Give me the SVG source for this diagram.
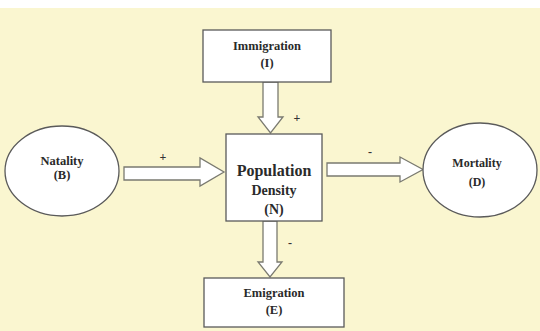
<svg xmlns="http://www.w3.org/2000/svg" width="540" height="331" viewBox="0 0 540 331">
<style>
.bg{fill:#FAF6D0}
.box{fill:#FFFFFF;stroke:#5a5a5a;stroke-width:1.3}
.arr{fill:#FFFFFF;stroke:#7a7a70;stroke-width:1.3;stroke-linejoin:miter}
.t{font-weight:bold;fill:#2a2a2a;text-anchor:middle}
.s{font-weight:bold;fill:#333;text-anchor:middle;font-size:12px}
</style>
<rect x="0" y="0" width="540" height="331" fill="#FFFFFF"/>
<rect class="bg" x="0" y="8" width="540" height="323"/>
<g id="connectors" font-family="'Liberation Serif', 'DejaVu Serif', serif">
<polygon class="arr" points="263,82 278,82 278,117 283,117 270.5,133 258,117 263,117"/>
<polygon class="arr" points="124,167 200,167 200,158 224,172 200,186 200,180 124,180"/>
<polygon class="arr" points="327,163 400,163 400,157 423,169.5 400,182 400,176 327,176"/>
<polygon class="arr" points="263,221 277,221 277,262 282,262 270,277 258,262 263,262"/>
<text class="s" x="297" y="122">+</text>
<text class="s" x="163" y="161">+</text>
<text class="s" x="370" y="156">-</text>
<text class="s" x="290" y="247">-</text>
</g>
<g id="immigration" font-family="'Liberation Serif', 'DejaVu Serif', serif">
<rect class="box" x="203" y="30" width="128" height="52"/>
<text class="t" x="267" y="50" font-size="12.5">Immigration</text>
<text class="t" x="267" y="67" font-size="12.5">(I)</text>
</g>
<g id="natality" font-family="'Liberation Serif', 'DejaVu Serif', serif">
<ellipse class="box" cx="62" cy="171" rx="57" ry="45"/>
<text class="t" x="62" y="165" font-size="12.5">Natality</text>
<text class="t" x="62" y="179" font-size="12.5">(B)</text>
</g>
<g id="population" font-family="'Liberation Serif', 'DejaVu Serif', serif">
<rect class="box" x="226" y="134" width="96" height="87"/>
<text class="t" x="274" y="176" font-size="16">Population</text>
<text class="t" x="274" y="195" font-size="14">Density</text>
<text class="t" x="274" y="214" font-size="14">(N)</text>
</g>
<g id="mortality" font-family="'Liberation Serif', 'DejaVu Serif', serif">
<ellipse class="box" cx="480" cy="170" rx="57" ry="47"/>
<text class="t" x="477" y="167" font-size="12">Mortality</text>
<text class="t" x="477" y="186" font-size="12">(D)</text>
</g>
<g id="emigration" font-family="'Liberation Serif', 'DejaVu Serif', serif">
<rect class="box" x="204" y="278" width="140" height="49"/>
<text class="t" x="274" y="297" font-size="12.5">Emigration</text>
<text class="t" x="274" y="314" font-size="12.5">(E)</text>
</g>
</svg>
